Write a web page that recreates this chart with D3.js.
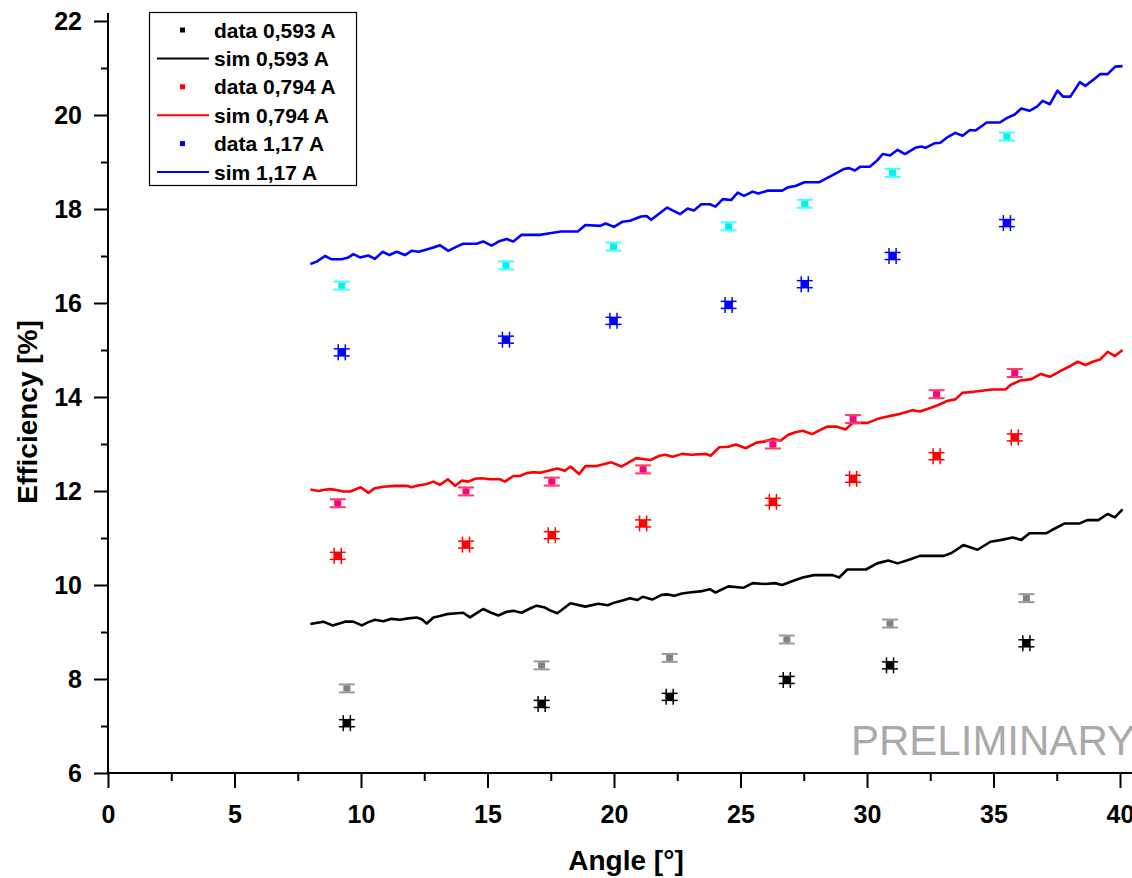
<!DOCTYPE html>
<html>
<head>
<meta charset="utf-8">
<script src="https://cdn.jsdelivr.net/npm/d3@7"></script>
<style>
  html, body { margin: 0; padding: 0; background: #fff; }
  svg { display: block; }
  text { font-family: "Liberation Sans", Arial, sans-serif; }
</style>
</head>
<body>
<svg id="chart" width="1132" height="878"></svg>
<script>
// ---- measured efficiency, angle in degrees, efficiency in % ----
const data0593Angle = [9.44, 17.14, 22.2, 26.83, 30.91, 36.3];
const data0593Eff   = [7.06, 7.47, 7.62, 7.98, 8.29, 8.76];
const alt0593Eff    = [7.80, 8.29, 8.45, 8.84, 9.18, 9.72];

const data0794Angle = [9.08, 14.15, 17.54, 21.15, 26.28, 29.45, 32.75, 35.84];
const data0794Eff   = [10.62, 10.86, 11.06, 11.31, 11.77, 12.26, 12.74, 13.14];
const alt0794Eff    = [11.74, 11.99, 12.2, 12.46, 12.99, 13.53, 14.06, 14.51];

const data117Angle = [9.24, 15.73, 19.98, 24.53, 27.54, 31.01, 35.53];
const data117Eff   = [14.95, 15.22, 15.62, 15.96, 16.40, 17.0, 17.70];
const alt117Eff    = [16.37, 16.8, 17.2, 17.63, 18.11, 18.77, 19.54];

// error bars (angle in degrees, efficiency in %)
const dataAngleErr = 0.14;
const dataEffErr   = 0.075;
const altEffErr    = 0.085;

// ---- simulation curves: [angle, efficiency] ----
const sim0593 = [
  [8.0,9.17],[8.51,9.22],[8.88,9.14],[9.37,9.22],[9.7,9.22],[10.03,9.14],[10.29,9.21],[10.55,9.26],
  [10.88,9.23],[11.21,9.28],[11.54,9.26],[11.87,9.29],[12.2,9.31],[12.4,9.27],[12.6,9.18],[12.86,9.31],
  [13.12,9.34],[13.39,9.38],[13.78,9.4],[14.04,9.41],[14.31,9.31],[14.57,9.4],[14.83,9.49],[15.1,9.42],
  [15.43,9.35],[15.76,9.43],[16.02,9.45],[16.35,9.41],[16.68,9.5],[16.94,9.56],[17.27,9.52],[17.47,9.46],
  [17.76,9.4],[18.28,9.61],[18.87,9.54],[19.38,9.6],[19.75,9.57],[20.04,9.63],[20.41,9.68],[20.63,9.72],
  [20.92,9.68],[21.14,9.75],[21.51,9.69],[21.88,9.79],[22.1,9.8],[22.39,9.77],[22.69,9.82],[22.98,9.84],
  [23.49,9.87],[23.79,9.91],[24.01,9.84],[24.52,9.97],[25.11,9.94],[25.48,10.04],[25.99,10.02],[26.36,10.04],
  [26.65,10.0],[27.09,10.09],[27.46,10.16],[27.9,10.21],[28.64,10.21],[28.9,10.16],[29.22,10.33],[29.96,10.33],
  [30.4,10.46],[30.84,10.52],[31.21,10.46],[31.72,10.55],[32.09,10.62],[33.04,10.62],[33.34,10.68],[33.81,10.85],
  [34.37,10.75],[34.88,10.92],[35.32,10.96],[35.76,11.01],[36.1,10.96],[36.42,11.1],[37.08,11.1],[37.31,11.17],
  [37.82,11.31],[38.41,11.31],[38.7,11.38],[39.14,11.38],[39.51,11.51],[39.8,11.44],[40.1,11.61]
];

const sim0794 = [
  [8.0,12.03],[8.31,12.0],[8.51,12.02],[8.77,12.04],[9.04,12.02],[9.3,11.99],[9.57,11.99],[9.99,12.08],
  [10.29,11.96],[10.55,12.06],[10.88,12.09],[11.34,12.11],[11.8,12.11],[12.0,12.08],[12.2,12.11],[12.6,12.15],
  [12.86,12.2],[13.12,12.13],[13.43,12.25],[13.72,12.11],[13.98,12.22],[14.24,12.2],[14.51,12.26],[14.77,12.27],
  [15.1,12.25],[15.49,12.25],[15.69,12.2],[16.02,12.32],[16.28,12.32],[16.55,12.38],[16.81,12.4],[17.07,12.39],
  [17.4,12.43],[17.76,12.48],[18.06,12.43],[18.28,12.52],[18.62,12.36],[18.87,12.53],[19.31,12.53],[19.9,12.61],
  [20.29,12.52],[20.88,12.7],[21.44,12.66],[21.8,12.75],[22.03,12.77],[22.32,12.73],[22.69,12.79],[23.05,12.77],
  [23.64,12.79],[23.82,12.75],[24.16,12.93],[24.52,12.94],[24.82,12.99],[25.21,12.91],[25.63,13.03],[25.92,13.05],
  [26.29,13.11],[26.58,13.07],[26.87,13.19],[27.17,13.25],[27.46,13.28],[27.83,13.21],[28.08,13.28],[28.42,13.37],
  [28.78,13.37],[29.15,13.31],[29.44,13.45],[30.03,13.45],[30.4,13.53],[30.77,13.58],[31.21,13.63],[31.8,13.72],
  [32.09,13.69],[32.53,13.77],[32.82,13.83],[33.19,13.92],[33.49,13.95],[33.78,14.09],[34.22,14.11],[34.95,14.16],
  [35.47,14.16],[35.69,14.26],[36.06,14.35],[36.5,14.38],[36.87,14.49],[37.23,14.43],[37.67,14.56],[38.04,14.66],
  [38.33,14.75],[38.63,14.68],[38.92,14.75],[39.22,14.8],[39.51,14.96],[39.8,14.87],[40.1,15.0]
];

const sim117 = [
  [8.0,16.83],[8.25,16.88],[8.58,17.0],[8.84,16.93],[9.24,16.93],[9.5,16.97],[9.7,17.04],[9.96,16.97],
  [10.29,17.01],[10.55,16.94],[10.86,17.09],[11.12,17.02],[11.41,17.09],[11.74,17.02],[12.0,17.11],[12.27,17.09],
  [12.53,17.13],[12.86,17.18],[13.12,17.23],[13.45,17.11],[13.78,17.2],[14.04,17.26],[14.57,17.26],[14.83,17.31],
  [15.16,17.22],[15.49,17.32],[15.76,17.36],[16.02,17.31],[16.35,17.45],[16.68,17.45],[17.07,17.45],[17.4,17.48],
  [17.91,17.52],[18.57,17.52],[18.87,17.66],[19.45,17.64],[19.67,17.69],[20.0,17.62],[20.34,17.73],[20.63,17.75],
  [21.07,17.84],[21.29,17.85],[21.47,17.77],[22.1,18.03],[22.61,17.89],[22.91,18.01],[23.16,17.97],[23.45,18.1],
  [23.79,18.1],[24.01,18.05],[24.3,18.21],[24.63,18.19],[24.89,18.35],[25.14,18.28],[25.48,18.37],[25.7,18.33],
  [26.07,18.39],[26.65,18.39],[26.87,18.46],[27.17,18.49],[27.53,18.57],[28.12,18.57],[28.64,18.72],[29.08,18.85],
  [29.3,18.87],[29.52,18.82],[29.74,18.9],[30.11,18.9],[30.4,19.03],[30.62,19.17],[30.91,19.14],[31.21,19.26],
  [31.5,19.17],[31.94,19.31],[32.16,19.33],[32.31,19.3],[32.68,19.4],[32.9,19.41],[33.19,19.53],[33.49,19.62],
  [33.78,19.56],[34.07,19.68],[34.29,19.67],[34.73,19.84],[35.25,19.84],[35.54,19.94],[35.84,20.01],[36.1,20.14],
  [36.42,20.09],[36.72,20.18],[36.94,20.3],[37.23,20.23],[37.53,20.52],[37.75,20.39],[38.04,20.39],[38.41,20.7],
  [38.63,20.62],[39.0,20.77],[39.22,20.87],[39.51,20.87],[39.81,21.03],[40.1,21.04]
];

// ---- axes ----
const xMajorTicks = [0, 5, 10, 15, 20, 25, 30, 35, 40];
const xMinorTicks = [2.5, 7.5, 12.5, 17.5, 22.5, 27.5, 32.5, 37.5];
const yMajorTicks = [6, 8, 10, 12, 14, 16, 18, 20, 22];
const yMinorTicks = [7, 9, 11, 13, 15, 17, 19, 21];
const xAxisExtent = [0, 40.47];
const yAxisExtent = [6, 22.17];

const legendLabels = ["data 0,593 A", "sim 0,593 A", "data 0,794 A", "sim 0,794 A", "data 1,17 A", "sim 1,17 A"];

const svg = d3.select("#chart");

const x = d3.scaleLinear().domain([0, 40]).range([108, 1120]);
const y = d3.scaleLinear().domain([6, 22]).range([773, 21]);

// simulation curves
const line = d3.line().x(d => x(d[0])).y(d => y(d[1]));
const sims = [
  { pts: sim0593, color: "#000000" },
  { pts: sim0794, color: "#ff0000" },
  { pts: sim117,  color: "#0000ff" }
];
svg.append("g").selectAll("path").data(sims).join("path")
  .attr("d", d => line(d.pts))
  .attr("fill", "none")
  .attr("stroke", d => d.color)
  .attr("stroke-width", 2.6)
  .attr("stroke-linejoin", "round");

// secondary (light) data: square with vertical error bars
const altSeries = [
  { ang: data0593Angle, eff: alt0593Eff, fill: "#808080", bar: "#9a9a9a" },
  { ang: data0794Angle, eff: alt0794Eff, fill: "#ff0080", bar: "#ff3a5c" },
  { ang: data117Angle,  eff: alt117Eff,  fill: "#00f0f0", bar: "#40ffff" }
];
altSeries.forEach(s => {
  const g = svg.append("g");
  const pts = d3.zip(s.ang, s.eff);
  const gp = g.selectAll("g").data(pts).join("g");
  gp.append("line")
    .attr("x1", d => x(d[0])).attr("x2", d => x(d[0]))
    .attr("y1", d => y(d[1] - altEffErr)).attr("y2", d => y(d[1] + altEffErr))
    .attr("stroke", s.bar).attr("stroke-width", 2);
  [-1, 1].forEach(sgn => {
    gp.append("line")
      .attr("x1", d => x(d[0]) - 8).attr("x2", d => x(d[0]) + 8)
      .attr("y1", d => y(d[1] + sgn * altEffErr)).attr("y2", d => y(d[1] + sgn * altEffErr))
      .attr("stroke", s.bar).attr("stroke-width", 2);
  });
  gp.append("rect")
    .attr("x", d => x(d[0]) - 3.5).attr("y", d => y(d[1]) - 3)
    .attr("width", 7).attr("height", 6)
    .attr("fill", s.fill);
});

// primary data: square with x and y error bars
const dataSeries = [
  { ang: data0593Angle, eff: data0593Eff, color: "#000000" },
  { ang: data0794Angle, eff: data0794Eff, color: "#ff0000" },
  { ang: data117Angle,  eff: data117Eff,  color: "#0000ff" }
];
dataSeries.forEach(s => {
  const g = svg.append("g");
  const pts = d3.zip(s.ang, s.eff);
  const gp = g.selectAll("g").data(pts).join("g");
  // x error bar with vertical caps
  gp.append("line")
    .attr("x1", d => x(d[0] - dataAngleErr)).attr("x2", d => x(d[0] + dataAngleErr))
    .attr("y1", d => y(d[1])).attr("y2", d => y(d[1]))
    .attr("stroke", s.color).attr("stroke-width", 1.5);
  [-1, 1].forEach(sgn => {
    gp.append("line")
      .attr("x1", d => x(d[0] + sgn * dataAngleErr)).attr("x2", d => x(d[0] + sgn * dataAngleErr))
      .attr("y1", d => y(d[1]) - 8).attr("y2", d => y(d[1]) + 8)
      .attr("stroke", s.color).attr("stroke-width", 1.5);
  });
  // y error bar with horizontal caps
  gp.append("line")
    .attr("x1", d => x(d[0])).attr("x2", d => x(d[0]))
    .attr("y1", d => y(d[1] - dataEffErr)).attr("y2", d => y(d[1] + dataEffErr))
    .attr("stroke", s.color).attr("stroke-width", 1.5);
  [-1, 1].forEach(sgn => {
    gp.append("line")
      .attr("x1", d => x(d[0]) - 8).attr("x2", d => x(d[0]) + 8)
      .attr("y1", d => y(d[1] + sgn * dataEffErr)).attr("y2", d => y(d[1] + sgn * dataEffErr))
      .attr("stroke", s.color).attr("stroke-width", 1.5);
  });
  gp.append("rect")
    .attr("x", d => x(d[0]) - 3.5).attr("y", d => y(d[1]) - 3.5)
    .attr("width", 7).attr("height", 7)
    .attr("fill", s.color);
});

// ---- axes drawing ----
function styleAxis(g) {
  g.select(".domain").remove();
  g.selectAll(".tick line").attr("stroke", "#000").attr("stroke-width", 2);
  g.selectAll(".tick text")
    .attr("fill", "#000")
    .style("font-family", "'Liberation Sans', Arial, sans-serif")
    .style("font-weight", "bold")
    .style("font-size", "25px");
}

const xAxisG = svg.append("g").attr("transform", "translate(0,773)");
xAxisG.append("g")
  .call(d3.axisBottom(x).tickValues(xMajorTicks).tickFormat(d3.format("d")).tickSize(15).tickPadding(17))
  .call(styleAxis);
xAxisG.append("g")
  .call(d3.axisBottom(x).tickValues(xMinorTicks).tickFormat("").tickSize(8))
  .call(styleAxis);
xAxisG.append("line")
  .attr("x1", x(xAxisExtent[0])).attr("x2", x(xAxisExtent[1]))
  .attr("y1", 0).attr("y2", 0)
  .attr("stroke", "#000").attr("stroke-width", 2);

const yAxisG = svg.append("g").attr("transform", "translate(108,0)");
yAxisG.append("g")
  .call(d3.axisLeft(y).tickValues(yMajorTicks).tickFormat(d3.format("d")).tickSize(14).tickPadding(12))
  .call(styleAxis);
yAxisG.append("g")
  .call(d3.axisLeft(y).tickValues(yMinorTicks).tickFormat("").tickSize(7))
  .call(styleAxis);
yAxisG.append("line")
  .attr("x1", 0).attr("x2", 0)
  .attr("y1", y(yAxisExtent[0])).attr("y2", y(yAxisExtent[1]))
  .attr("stroke", "#000").attr("stroke-width", 2);

// axis titles
svg.append("text")
  .attr("x", 626).attr("y", 870)
  .attr("text-anchor", "middle")
  .style("font-weight", "bold").style("font-size", "28px")
  .text("Angle [°]");
svg.append("text")
  .attr("transform", "translate(37,412) rotate(-90)")
  .attr("text-anchor", "middle")
  .style("font-weight", "bold").style("font-size", "28px")
  .text("Efficiency [%]");

// watermark
svg.append("text")
  .attr("x", 851).attr("y", 755)
  .attr("fill", "#aaaaaa")
  .style("font-size", "42px")
  .text("PRELIMINARY");

// ---- legend ----
const legend = svg.append("g");
legend.append("rect")
  .attr("x", 149.5).attr("y", 12.5).attr("width", 207).attr("height", 173)
  .attr("fill", "#fff").attr("stroke", "#000").attr("stroke-width", 1.2);
const legendColors = ["#000000", "#000000", "#ff0000", "#ff0000", "#0000ff", "#0000ff"];
const rowY = i => 30 + i * 28.4;
legendLabels.forEach((label, i) => {
  const cy = rowY(i);
  if (i % 2 === 0) {
    legend.append("rect")
      .attr("x", 180).attr("y", cy - 2.5).attr("width", 5).attr("height", 5)
      .attr("fill", legendColors[i]);
  } else {
    legend.append("line")
      .attr("x1", 157).attr("x2", 209).attr("y1", cy).attr("y2", cy)
      .attr("stroke", legendColors[i]).attr("stroke-width", 2);
  }
  legend.append("text")
    .attr("x", 214).attr("y", cy).attr("dy", "0.36em")
    .style("font-weight", "bold").style("font-size", "21px")
    .text(label);
});
</script>
</body>
</html>
